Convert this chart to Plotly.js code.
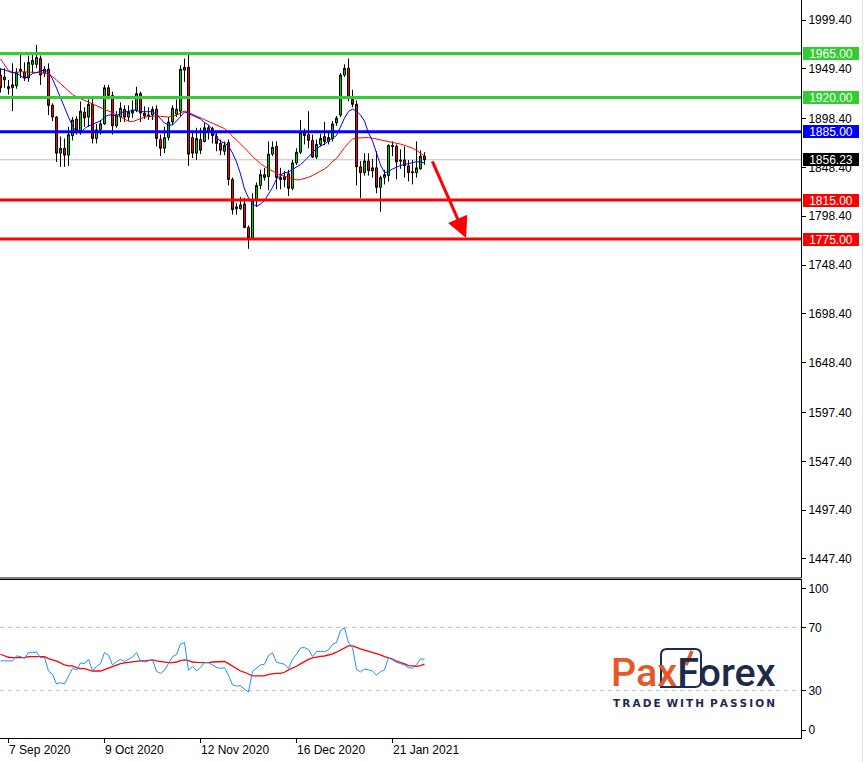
<!DOCTYPE html>
<html>
<head>
<meta charset="utf-8">
<script src="https://cdn.plot.ly/plotly-3.0.1.min.js"></script>
<style>html,body{margin:0;padding:0;background:#fff}#chart{width:866px;height:762px}</style>
</head>
<body>
<div id="chart"></div>
<script>
// ---------- DATA ----------
const dates = [
 '2020-09-03','2020-09-04','2020-09-07','2020-09-08','2020-09-09','2020-09-10','2020-09-11','2020-09-14','2020-09-15','2020-09-16',
 '2020-09-17','2020-09-18','2020-09-21','2020-09-22','2020-09-23','2020-09-24','2020-09-25','2020-09-28','2020-09-29','2020-09-30',
 '2020-10-01','2020-10-02','2020-10-05','2020-10-06','2020-10-07','2020-10-08','2020-10-09','2020-10-12','2020-10-13','2020-10-14',
 '2020-10-15','2020-10-16','2020-10-19','2020-10-20','2020-10-21','2020-10-22','2020-10-23','2020-10-26','2020-10-27','2020-10-28',
 '2020-10-29','2020-10-30','2020-11-02','2020-11-03','2020-11-04','2020-11-05','2020-11-06','2020-11-09','2020-11-10','2020-11-11',
 '2020-11-12','2020-11-13','2020-11-16','2020-11-17','2020-11-18','2020-11-19','2020-11-20','2020-11-23','2020-11-24','2020-11-25',
 '2020-11-26','2020-11-27','2020-11-30','2020-12-01','2020-12-02','2020-12-03','2020-12-04','2020-12-07','2020-12-08','2020-12-09',
 '2020-12-10','2020-12-11','2020-12-14','2020-12-15','2020-12-16','2020-12-17','2020-12-18','2020-12-21','2020-12-22','2020-12-23',
 '2020-12-24','2020-12-28','2020-12-29','2020-12-30','2020-12-31','2021-01-04','2021-01-05','2021-01-06','2021-01-07','2021-01-08',
 '2021-01-11','2021-01-12','2021-01-13','2021-01-14','2021-01-15','2021-01-18','2021-01-19','2021-01-20','2021-01-21','2021-01-22',
 '2021-01-25','2021-01-26','2021-01-27','2021-01-28','2021-01-29','2021-02-01','2021-02-02'
];
const openP = [
 1943,1938,1931,1930,1932,1947,1946,1940,1954,1954, 1960,1945,1949,1912,1900,1863,1868,1861,1881,1898,
 1886,1905,1900,1913,1878,1887,1893,1930,1922,1891, 1900,1908,1900,1904,1907,1924,1904,1901,1902,1908,
 1877,1868,1879,1895,1903,1906,1948,1951,1879,1863, 1877,1875,1889,1888,1880,1873,1865,1874,1836,1808,
 1806,1811,1787,1776,1815,1830,1841,1839,1862,1870, 1838,1839,1842,1827,1853,1864,1884,1882,1876,1859,
 1872,1880,1875,1878,1894,1902,1943,1950,1918,1913, 1849,1843,1855,1845,1848,1828,1838,1840,1871,1870,
 1856,1856,1850,1844,1843,1847,1860
];
const highP = [
 1950,1950,1938,1955,1950,1965,1956,1963,1966,1974, 1963,1952,1955,1914,1901,1880,1878,1890,1900,1901,
 1916,1910,1918,1920,1893,1897,1933,1933,1926,1906, 1915,1912,1912,1917,1931,1926,1911,1910,1911,1912,
 1882,1890,1900,1912,1918,1953,1960,1965,1886,1889, 1889,1894,1892,1890,1884,1877,1875,1877,1838,1812,
 1818,1817,1789,1822,1833,1846,1848,1875,1875,1875, 1848,1845,1846,1856,1868,1897,1888,1906,1882,1877,
 1883,1895,1886,1896,1901,1945,1954,1960,1928,1917, 1855,1863,1863,1857,1865,1840,1846,1872,1875,1872,
 1867,1870,1856,1856,1875,1866,1864
];
const lowP = [
 1925,1930,1923,1906,1929,1940,1937,1936,1945,1950, 1933,1941,1902,1896,1854,1849,1849,1850,1876,1882,
 1882,1890,1890,1873,1873,1882,1892,1918,1882,1889, 1895,1895,1896,1899,1905,1895,1898,1897,1897,1870,
 1860,1863,1876,1892,1900,1901,1936,1850,1858,1856, 1862,1874,1877,1873,1865,1861,1861,1830,1800,1800,
 1805,1786,1765,1775,1808,1826,1835,1825,1860,1826, 1826,1828,1819,1825,1851,1862,1872,1868,1858,1857,
 1870,1871,1872,1875,1891,1900,1941,1916,1910,1830, 1817,1840,1840,1838,1822,1803,1831,1834,1860,1836,
 1847,1838,1834,1831,1838,1846,1851
];
const closeP = [
 1930,1941,1929,1933,1946,1949,1940,1956,1958,1961, 1943,1949,1912,1900,1863,1868,1861,1882,1897,1886,
 1906,1899,1913,1878,1887,1893,1930,1922,1891,1902, 1909,1900,1905,1907,1924,1904,1901,1902,1908,1878,
 1868,1879,1895,1909,1908,1949,1951,1862,1863,1878, 1866,1889,1885,1881,1873,1866,1871,1836,1805,1806,
 1810,1787,1776,1815,1830,1841,1838,1862,1869,1838, 1836,1836,1827,1853,1864,1884,1881,1876,1859,1872,
 1878,1875,1879,1893,1899,1943,1950,1919,1913,1849, 1843,1855,1845,1848,1828,1838,1841,1871,1870,1854,
 1855,1850,1843,1843,1848,1860,1856.23
];
// fast moving average (blue) and slow moving average (red), read per bar
const maFast = [
 1949.2,1948.5,1946.7,1945.4,1945.1,1942.0,1939.5,1941.5,1944.6,1945.6, 1946.7,1948.2,1946.1,1939.0,1929.7,1919.5,1908.2,1900.0,1890.8,1884.7,
 1883.7,1888.3,1890.8,1892.4,1893.9,1896.0,1900.0,1902.1,1902.1,1901.1, 1904.2,1905.5,1905.5,1907.2,1906.7,1905.5,1905.5,1905.5,1905.5,1902.6,
 1898.5,1893.9,1891.9,1891.9,1896.0,1900.6,1905.2,1903.6,1901.6,1900.3, 1898.0,1894.4,1891.9,1887.2,1879.6,1874.9,1873.4,1870.3,1863.2,1854.0,
 1841.7,1826.3,1817.1,1811.5,1808.4,1810.9,1814.5,1821.2,1827.8,1836.5, 1840.6,1843.0,1843.7,1846.3,1848.8,1851.4,1855.0,1859.1,1863.7,1867.8,
 1870.3,1872.4,1875.5,1878.0,1881.1,1889.8,1899.0,1905.7,1908.2,1906.2, 1902.1,1895.9,1883.7,1875.5,1863.2,1850.9,1843.0,1844.2,1846.8,1848.8,
 1850.4,1851.4,1852.4,1853.5,1854.3,1854.0,1853.0
];
const maSlow = [
 1959.5,1953.8,1947.7,1945.9,1945.6,1946.4,1946.4,1946.3,1945.9,1945.6, 1945.4,1945.1,1943.6,1941.5,1937.9,1934.1,1929.7,1926.5,1923.0,1920.7,
 1918.9,1916.8,1915.2,1913.6,1911.9,1910.4,1908.4,1906.4,1904.3,1902.1, 1899.7,1897.4,1895.7,1895.3,1896.8,1898.7,1899.8,1900.5,1900.9,1901.1,
 1900.8,1900.5,1900.0,1900.8,1902.0,1904.1,1906.2,1904.6,1902.8,1900.8, 1899.3,1897.9,1896.2,1894.1,1892.4,1890.8,1888.2,1885.2,1880.1,1876.5,
 1872.6,1868.6,1864.2,1859.7,1855.9,1852.3,1849.4,1846.8,1844.2,1842.4, 1840.6,1839.5,1838.6,1837.4,1835.7,1835.9,1836.8,1838.3,1840.1,1842.2,
 1844.2,1846.8,1849.9,1854.5,1857.5,1863.7,1868.8,1873.6,1877.5,1878.5, 1878.8,1879.0,1879.0,1878.3,1877.5,1877.0,1876.3,1875.5,1874.0,1873.1,
 1872.3,1871.1,1869.7,1868.0,1865.9,1863.4,1860.1
];
// RSI (blue) and its moving average (red)
const rsi = [
 48.8,48.8,48.4,48.8,52.0,51.5,50.5,54.1,53.9,54.5, 50.7,50.9,42.4,40.3,34.2,35.0,34.2,38.8,44.1,43.1,
 47.5,47.1,49.8,42.6,45.2,47.1,54.1,52.4,46.2,48.4, 49.8,48.4,49.8,51.3,54.1,48.8,48.1,48.8,49.6,42.2,
 40.9,42.9,47.7,51.5,52.8,59.4,60.4,42.9,45.4,42.6, 44.6,47.7,47.7,46.0,44.8,44.1,44.5,39.7,33.7,32.9,
 33.1,30.8,29.1,42.2,44.5,46.2,46.7,52.2,53.9,47.9, 47.3,46.7,44.1,49.8,53.0,57.0,57.2,56.0,51.5,54.7,
 54.9,54.5,55.8,59.2,60.4,68.0,69.7,60.4,57.2,43.5, 41.8,43.7,43.1,42.4,39.7,42.0,43.1,50.9,49.4,47.9,
 47.1,46.2,44.5,44.1,46.4,50.1,49.8
];
const rsiMa = [
 53.0,52.2,51.1,50.9,50.9,50.9,50.9,51.5,51.5,51.5, 51.5,51.5,50.3,49.6,48.6,47.5,46.2,45.6,45.6,44.5,
 43.9,43.9,43.1,42.4,42.4,42.4,43.3,44.3,45.4,46.2, 47.1,47.5,47.9,48.4,48.8,48.8,48.8,49.2,49.4,48.8,
 48.4,48.1,47.7,47.7,48.1,49.0,49.4,49.0,48.1,47.9, 47.7,47.7,47.7,48.1,48.1,48.4,48.4,47.1,45.4,43.9,
 42.4,41.6,40.3,39.3,39.3,39.3,39.3,40.3,40.7,40.9, 40.9,41.6,43.1,44.1,45.4,46.9,48.6,49.8,50.7,51.3,
 51.7,51.9,52.4,53.2,54.3,55.8,57.0,58.3,58.3,57.2, 56.4,55.6,54.9,54.3,53.4,52.6,51.5,50.9,50.0,48.6,
 47.9,46.9,45.8,45.4,45.4,45.8,46.7
];
const priceTicks = [1999.4,1949.4,1898.4,1848.4,1798.4,1748.4,1698.4,1648.4,1597.4,1547.4,1497.4,1447.4];
const resistanceLevels = [1965, 1920];
const pivotLevels = [1885];
const supportLevels = [1815, 1775];
const lastPrice = 1856.23;
const rsiLevels = [70, 30];
const rsiTickText = ['100', '70', '30', '0'];
const dateLabels = ['2020-09-07', '2020-10-09', '2020-11-12', '2020-12-16', '2021-01-21'];
const forecastTarget = 1775;

// ---------- LAYOUT HELPERS ----------
const W = 866, H = 762, ML = 0, MR = 65, MT = 0, MB = 24;
const PW = W - ML - MR, PH = H - MT - MB;     // 801 x 738
const px2x = px => (px - ML) / PW;
const px2y = py => (MT + PH - py) / PH;
const FONT = 'Liberation Sans, Arial, sans-serif';
const GREEN = '#32cd32', BLUE = '#0000ff', RED = '#ff0000';
const NAVY = '#1d2a4b', ORANGE = '#e4582a';

const xi = dates.map((d, i) => i);
const N = dates.length;
const months = ['Jan','Feb','Mar','Apr','May','Jun','Jul','Aug','Sep','Oct','Nov','Dec'];
const fmtDate = s => { const [y, m, d] = s.split('-'); return `${+d} ${months[+m - 1]} ${y}`; };
const labelIdx = dateLabels.map(d => dates.indexOf(d));

const traces = [
  { type: 'candlestick', x: xi, open: openP, high: highP, low: lowP, close: closeP,
    xaxis: 'x', yaxis: 'y', whiskerwidth: 0,
    increasing: { line: { color: '#000000', width: 1 }, fillcolor: '#00d000' },
    decreasing: { line: { color: '#000000', width: 1 }, fillcolor: '#ff0000' },
    hoverinfo: 'skip' },
  { type: 'scatter', mode: 'lines', x: xi, y: maSlow, xaxis: 'x', yaxis: 'y',
    line: { color: RED, width: 1 }, hoverinfo: 'skip' },
  { type: 'scatter', mode: 'lines', x: xi, y: maFast, xaxis: 'x', yaxis: 'y',
    line: { color: BLUE, width: 1 }, hoverinfo: 'skip' },
  { type: 'scatter', mode: 'lines', x: xi, y: rsiMa, xaxis: 'x', yaxis: 'y2',
    line: { color: RED, width: 1.3 }, hoverinfo: 'skip' },
  { type: 'scatter', mode: 'lines', x: xi, y: rsi, xaxis: 'x', yaxis: 'y2',
    line: { color: '#1e90ff', width: 1 }, hoverinfo: 'skip' }
];

const shapes = [];
const annotations = [];
const lvl = (v, color) => {
  shapes.push({ type: 'line', xref: 'paper', x0: 0, x1: 1, yref: 'y', y0: v, y1: v,
                line: { color: color, width: 3 }, layer: 'above' });
  annotations.push({ xref: 'paper', x: 1, xanchor: 'left', xshift: 2, yref: 'y', y: v, yanchor: 'middle',
                     text: v.toFixed(2), showarrow: false, bgcolor: color, borderwidth: 0, borderpad: 0,
                     width: 56, height: 13, align: 'center', valign: 'middle',
                     font: { family: FONT, size: 12, color: '#ffffff' } });
};
// last price line
shapes.push({ type: 'line', xref: 'paper', x0: 0, x1: 1, yref: 'y', y0: lastPrice, y1: lastPrice,
              line: { color: '#c0c0c0', width: 1 }, layer: 'below' });
resistanceLevels.forEach(v => lvl(v, GREEN));
pivotLevels.forEach(v => lvl(v, BLUE));
supportLevels.forEach(v => lvl(v, RED));
annotations.push({ xref: 'paper', x: 1, xanchor: 'left', xshift: 2, yref: 'y', y: lastPrice, yanchor: 'middle',
                   text: lastPrice.toFixed(2), showarrow: false, bgcolor: '#000000', borderwidth: 0, borderpad: 0,
                   width: 56, height: 13, align: 'center', valign: 'middle',
                   font: { family: FONT, size: 12, color: '#ffffff' } });
// RSI levels
rsiLevels.forEach(v => shapes.push({ type: 'line', xref: 'paper', x0: 0, x1: 1, yref: 'y2', y0: v, y1: v,
                 line: { color: '#c0c0c0', width: 1, dash: '4px,4px' }, layer: 'below' }));
// main panel bottom border
shapes.push({ type: 'line', xref: 'paper', x0: 0, x1: 1, yref: 'y domain', y0: 0, y1: 0,
              line: { color: '#000000', width: 1 } });
// window edge
shapes.push({ type: 'line', xref: 'paper', x0: px2x(862.5), x1: px2x(862.5), yref: 'paper', y0: px2y(762), y1: px2y(0),
              line: { color: '#e3e3e3', width: 1 } });

// logo frame (rounded box around "xF") and accent stroke
{
  const x0 = px2x(661), x1 = px2x(701), y0 = px2y(687), y1 = px2y(649);
  const rx = 6 / PW, ry = 6 / PH;
  const path = `M ${x0},${y0} L ${x0},${y1 - ry} Q ${x0},${y1} ${x0 + rx},${y1} ` +
               `L ${x1 - rx},${y1} Q ${x1},${y1} ${x1},${y1 - ry} L ${x1},${y0 + ry} ` +
               `Q ${x1},${y0} ${x1 - rx},${y0} Z`;
  shapes.push({ type: 'path', xref: 'paper', yref: 'paper', path: path,
                line: { color: NAVY, width: 2 }, fillcolor: 'rgba(0,0,0,0)', layer: 'above' });
  shapes.push({ type: 'line', xref: 'paper', yref: 'paper', x0: px2x(692), y0: px2y(651), x1: px2x(686), y1: px2y(665),
                line: { color: ORANGE, width: 3.5 }, layer: 'above' });
}

// forecast arrow
annotations.push({ xref: 'x', yref: 'y', x: N - 1 + 10.4, y: forecastTarget + 1,
                   axref: 'x', ayref: 'y', ax: N - 1 + 1.8, ay: lastPrice,
                   showarrow: true, arrowcolor: RED, arrowwidth: 3, arrowhead: 2, arrowsize: 1.4, text: '' });

// date labels
labelIdx.forEach((ix, k) => annotations.push({
  xref: 'x', x: ix, xanchor: 'left', xshift: -2, yref: 'paper', y: px2y(750), yanchor: 'middle',
  text: fmtDate(dateLabels[k]), showarrow: false, font: { family: FONT, size: 12, color: '#000000' } }));

// logo
annotations.push({ xref: 'paper', yref: 'paper', x: px2x(609), y: px2y(672), xanchor: 'left', yanchor: 'middle',
  showarrow: false, text: '<span style="color:' + ORANGE + '">Pax</span><span style="color:' + NAVY + '">Forex</span>',
  font: { family: 'Roboto, sans-serif', size: 39.5, weight: 500 } });
annotations.push({ xref: 'paper', yref: 'paper', x: px2x(611), y: px2y(703), xanchor: 'left', yanchor: 'middle',
  showarrow: false, text: 'T\u2009R\u2009A\u2009D\u2009E \u2009W\u2009I\u2009T\u2009H \u2009P\u2009A\u2009S\u2009S\u2009I\u2009O\u2009N',
  font: { family: 'DejaVu Sans, sans-serif', size: 10.5, weight: 700, color: NAVY } });

const layout = {
  width: W, height: H, autosize: false,
  margin: { l: ML, r: MR, t: MT, b: MB, pad: 0 },
  paper_bgcolor: '#ffffff', plot_bgcolor: '#ffffff',
  showlegend: false, dragmode: false,
  font: { family: FONT, size: 12, color: '#000000' },
  xaxis: { domain: [0, 1], anchor: 'y2', range: [-0.125, 200.125], showgrid: false, zeroline: false,
           showline: true, linecolor: '#000000', linewidth: 1, mirror: true,
           ticks: 'outside', ticklen: 4, tickcolor: '#000000', tickvals: labelIdx, showticklabels: false,
           rangeslider: { visible: false }, fixedrange: true, automargin: false },
  yaxis: { domain: [160 / 738, 1], anchor: 'x', side: 'right', range: [1427.89, 2019.88],
           showgrid: false, zeroline: false, showline: true, linecolor: '#000000', linewidth: 1,
           ticks: 'outside', ticklen: 4, tickcolor: '#000000',
           tickvals: priceTicks, ticktext: priceTicks.map(v => v.toFixed(2)),
           tickfont: { family: FONT, size: 12, color: '#000000' }, fixedrange: true, automargin: false },
  yaxis2: { domain: [0, 158 / 738], anchor: 'x', side: 'right', range: [0, 100],
            showgrid: false, zeroline: false, showline: true, linecolor: '#000000', linewidth: 1,
            ticks: 'outside', ticklen: 4, tickcolor: '#000000',
            tickvals: [94.5, 70, 30, 5], ticktext: rsiTickText,
            tickfont: { family: FONT, size: 12, color: '#000000' }, fixedrange: true, automargin: false },
  shapes: shapes,
  annotations: annotations
};

Plotly.newPlot('chart', traces, layout, { displayModeBar: false, staticPlot: true });
</script>
</body>
</html>
